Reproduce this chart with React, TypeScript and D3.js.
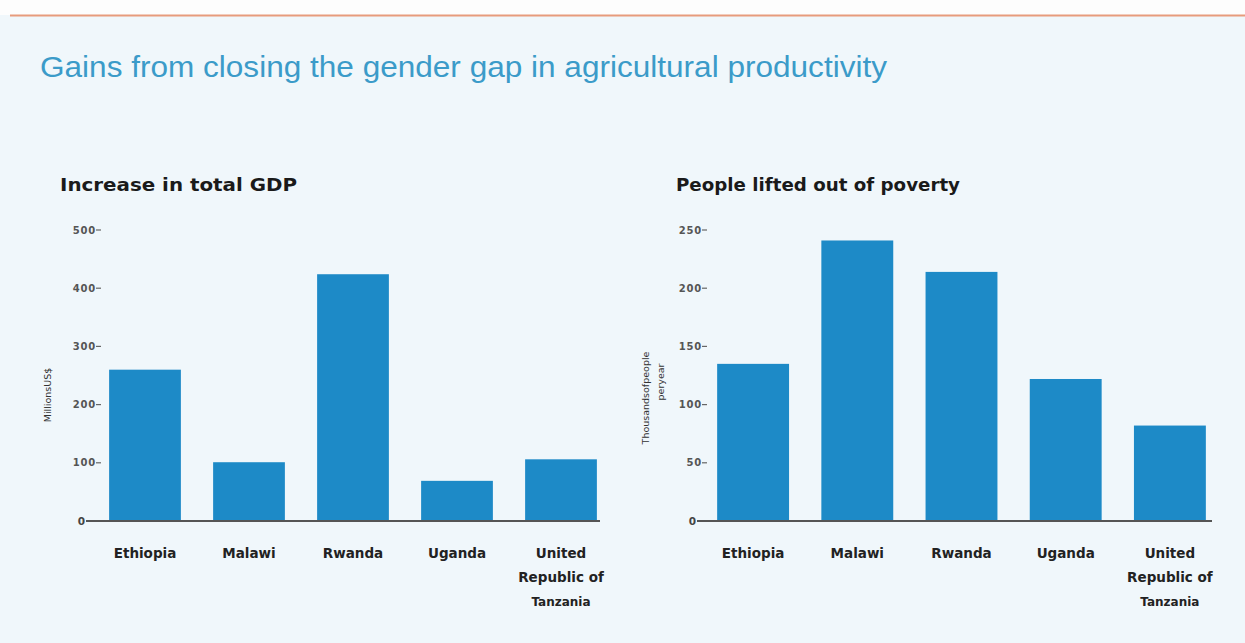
import React from "react";
import * as d3 from "d3";

const categories = ["Ethiopia", "Malawi", "Rwanda", "Uganda", "United Republic of Tanzania"];
const categoryLines = [["Ethiopia"], ["Malawi"], ["Rwanda"], ["Uganda"], ["United", "Republic of", "Tanzania"]];
const gdpValues = [260, 101, 424, 69, 106];
const povertyValues = [135, 241, 214, 122, 82];
const gdpTicks = [0, 100, 200, 300, 400, 500];
const povertyTicks = [0, 50, 100, 150, 200, 250];

const BAR = "#1d8ac7";
const TICK_FONT = "'DejaVu Sans', Verdana, sans-serif";

type PanelProps = {
  title: string;
  titleX: number;
  titleLen: number;
  values: number[];
  ticks: number[];
  max: number;
  xRange: [number, number];
  axisStart: number;
  axisEnd: number;
  tickRight: number;
  yLabelLines: string[];
  yLabelOffsets: number[];
  yLabelX: number;
  yLabelY: number;
};

function Panel(p: PanelProps) {
  const x = d3.scaleBand<string>().domain(categories).range(p.xRange).paddingInner(0.31).paddingOuter(0.155);
  const y = d3.scaleLinear().domain([0, p.max]).range([521, 230]);
  return (
    <g>
      <text
        x={p.titleX}
        y={191}
        fontFamily={TICK_FONT}
        fontWeight="bold"
        fontSize={18}
        fill="#1a1a1a"
        textLength={p.titleLen}
        lengthAdjust="spacingAndGlyphs"
      >
        {p.title}
      </text>
      {p.ticks.map((t) =>
        t === 0 ? (
          <g key={t}>
            <text x={p.axisStart - 1} y={y(t) + 4} textAnchor="end" fontFamily={TICK_FONT} fontWeight="bold" fontSize={10.5} fill="#444">
              0
            </text>
          </g>
        ) : (
          <g key={t}>
            <text x={p.tickRight - 5} y={y(t) + 3.5} textAnchor="end" fontFamily={TICK_FONT} fontWeight="bold" fontSize={10} letterSpacing={0.8} fill="#555">
              {t}
            </text>
            <line x1={p.tickRight - 5} x2={p.tickRight} y1={y(t)} y2={y(t)} stroke="#666" strokeWidth={1.2} />
          </g>
        )
      )}
      {p.values.map((v, i) => (
        <rect key={i} x={x(categories[i])} y={y(v)} width={x.bandwidth()} height={y(0) - y(v)} fill={BAR} />
      ))}
      <line x1={p.axisStart} x2={p.axisEnd} y1={y(0)} y2={y(0)} stroke="#555" strokeWidth={2} />
      {categoryLines.map((lines, i) =>
        lines.map((ln, j) => (
          <text
            key={i + "-" + j}
            x={(x(categories[i]) as number) + x.bandwidth() / 2}
            y={558 + j * 24}
            textAnchor="middle"
            fontFamily={TICK_FONT}
            fontWeight="bold"
            fontSize={ln === "Tanzania" ? 12 : 13.5}
            fill="#222"
          >
            {ln}
          </text>
        ))
      )}
      <g transform={`translate(${p.yLabelX},${p.yLabelY}) rotate(-90)`}>
        {p.yLabelLines.map((ln, j) => (
          <text key={j} x={p.yLabelOffsets[j]} y={j * 15} textAnchor="middle" fontFamily={TICK_FONT} fontSize={9.5} fill="#333">
            {ln}
          </text>
        ))}
      </g>
    </g>
  );
}

export default function App() {
  return (
    <svg width={1245} height={643} style={{ position: "absolute", left: 0, top: 0 }}>
      <rect x={0} y={0} width={1245} height={643} fill="#f0f7fb" />
      <rect x={0} y={0} width={1245} height={15} fill="#fdfdfd" />
      <line x1={10} x2={1245} y1={15.5} y2={15.5} stroke="#e79b7c" strokeWidth={2} />
      <text
        x={40}
        y={77}
        fontFamily="'Liberation Sans', Arial, sans-serif"
        fontSize={29}
        fill="#3b9bc9"
        textLength={847}
        lengthAdjust="spacingAndGlyphs"
      >
        Gains from closing the gender gap in agricultural productivity
      </text>
      <Panel
        title="Increase in total GDP"
        titleX={60}
        titleLen={237}
        values={gdpValues}
        ticks={gdpTicks}
        max={500}
        xRange={[93, 613]}
        axisStart={86}
        axisEnd={600}
        tickRight={101}
        yLabelLines={["MillionsUS$"]}
        yLabelOffsets={[0]}
        yLabelX={51}
        yLabelY={395}
      />
      <Panel
        title="People lifted out of poverty"
        titleX={676}
        titleLen={284}
        values={povertyValues}
        ticks={povertyTicks}
        max={250}
        xRange={[701, 1222]}
        axisStart={697}
        axisEnd={1212}
        tickRight={707}
        yLabelLines={["Thousandsofpeople", "peryear"]}
        yLabelOffsets={[0, 16]}
        yLabelX={649}
        yLabelY={398}
      />
    </svg>
  );
}
